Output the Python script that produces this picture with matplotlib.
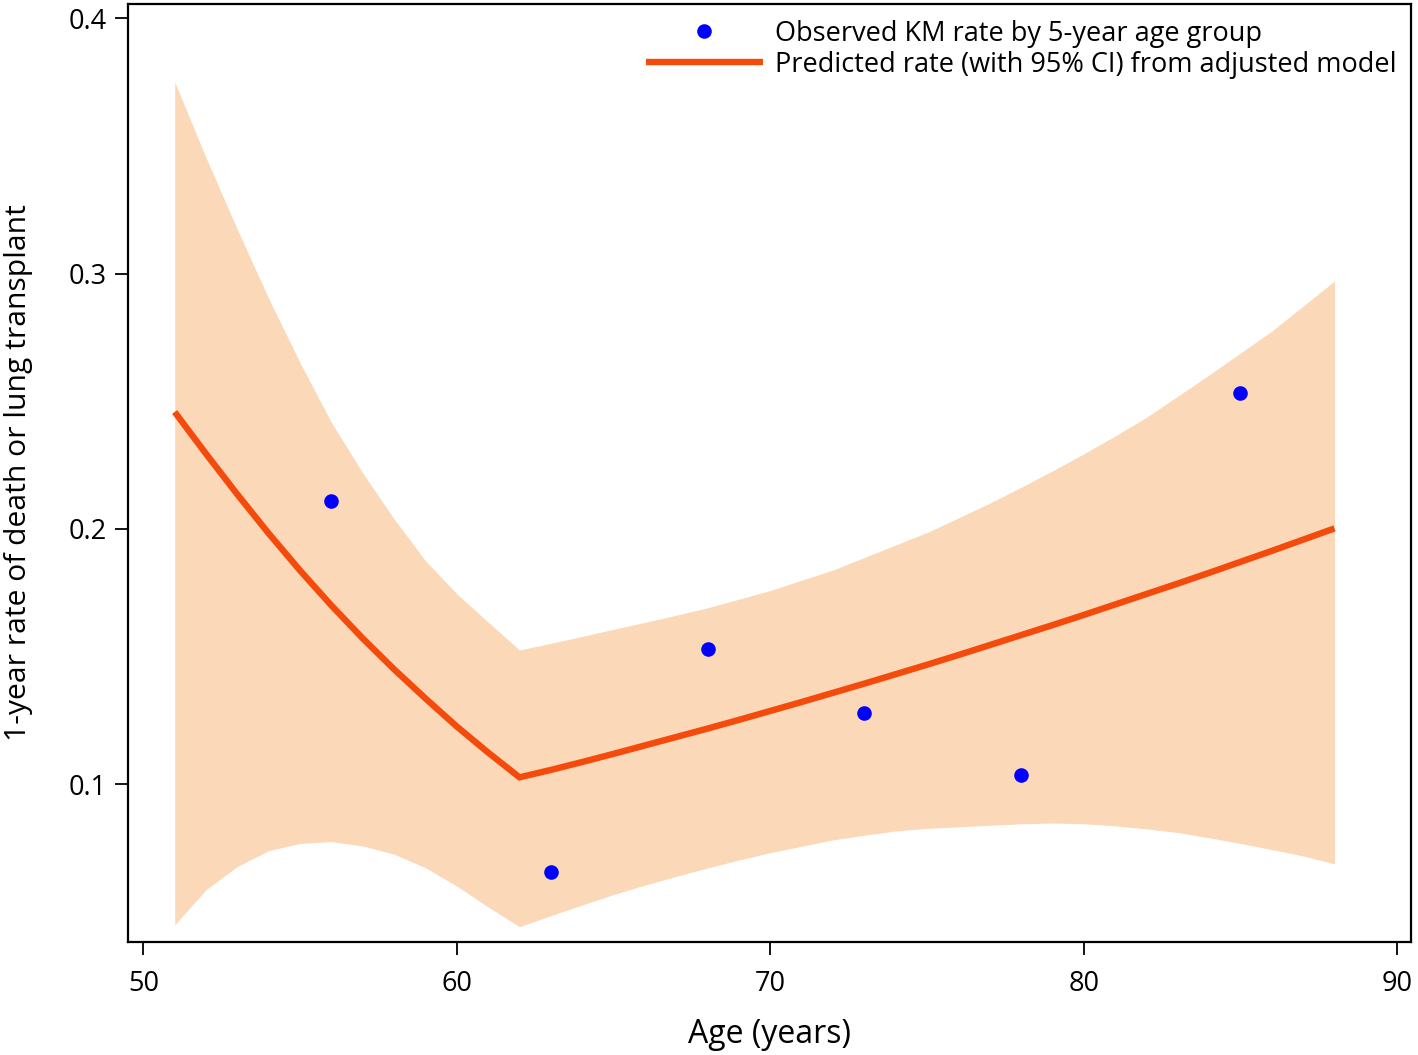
import matplotlib
matplotlib.use("Agg")
import matplotlib.pyplot as plt

# ---- data ----
obs_age = [56, 63, 68, 73, 78, 85]
obs_rate = [0.2111, 0.0655, 0.1530, 0.1278, 0.1036, 0.2534]

pred_age = [51, 52, 53, 54, 55, 56, 57, 58, 59, 60, 61, 62,
            63, 64, 65, 66, 67, 68, 69, 70, 71, 72, 73, 74, 75,
            76, 77, 78, 79, 80, 81, 82, 83, 84, 85, 86, 87, 88]
pred_rate = [0.2458, 0.2294, 0.2135, 0.1982, 0.1837, 0.1700, 0.1571, 0.1450,
             0.1336, 0.1226, 0.1124, 0.1027,
             0.1056, 0.1087, 0.1119, 0.1152, 0.1185, 0.1218, 0.1252, 0.1287,
             0.1322, 0.1358, 0.1394, 0.1431, 0.1468, 0.1506, 0.1545, 0.1584,
             0.1623, 0.1663, 0.1704, 0.1745, 0.1786, 0.1828, 0.1871, 0.1914,
             0.1958, 0.2002]
ci_upper = [0.3751, 0.3454, 0.3173, 0.2902, 0.2651, 0.2417, 0.2219, 0.2039,
            0.1875, 0.1746, 0.1635, 0.1526,
            0.1552, 0.1579, 0.1607, 0.1634, 0.1662, 0.1691, 0.1725, 0.1759,
            0.1799, 0.1839, 0.1888, 0.1937, 0.1986, 0.2043, 0.2101, 0.2163,
            0.2227, 0.2294, 0.2364, 0.2437, 0.2520, 0.2603, 0.2689, 0.2775,
            0.2873, 0.2971]
ci_lower = [0.0449, 0.0587, 0.0678, 0.0740, 0.0768, 0.0775, 0.0758, 0.0726,
            0.0673, 0.0601, 0.0519, 0.0442,
            0.0485, 0.0527, 0.0568, 0.0605, 0.0639, 0.0672, 0.0703, 0.0732,
            0.0757, 0.0782, 0.0800, 0.0817, 0.0827, 0.0833, 0.0839, 0.0845,
            0.0848, 0.0845, 0.0837, 0.0825, 0.0811, 0.0790, 0.0768, 0.0744,
            0.0719, 0.0688]

x_ticks = [50, 60, 70, 80, 90]
y_ticks = [0.1, 0.2, 0.3, 0.4]
y_tick_labels = ["0.1", "0.2", "0.3", "0.4"]

label_obs = "Observed KM rate by 5-year age group"
label_pred = "Predicted rate (with 95% CI) from adjusted model"
x_label = "Age (years)"
y_label = "1-year rate of death or lung transplant"

# ---- figure ----
plt.rcParams['font.family'] = ['Open Sans', 'DejaVu Sans']
W, H = 1418, 1055
fig = plt.figure(figsize=(W / 100, H / 100), dpi=100)
ax = fig.add_axes([128.3 / W, (H - 942) / H, (1411 - 128.3) / W, (942 - 4) / H])

band_color = '#FBD9B8'
line_color = '#F44A0C'
dot_color = '#0000FF'

ax.fill_between(pred_age, ci_lower, ci_upper, color=band_color, linewidth=0, zorder=1)
line, = ax.plot(pred_age, pred_rate, color=line_color, linewidth=4.6,
                solid_joinstyle='miter', solid_capstyle='butt', zorder=2, label=label_pred)
pts, = ax.plot(obs_age, obs_rate, linestyle='none', marker='o', markersize=10.5,
               color=dot_color, markeredgewidth=0, zorder=3, label=label_obs)

ax.set_xlim(49.52, 90.44)
ax.set_ylim(0.0382, 0.4056)
ax.set_xticks(x_ticks)
ax.set_yticks(y_ticks)
ax.set_yticklabels(y_tick_labels)

for s in ax.spines.values():
    s.set_linewidth(1.6)
    s.set_color('black')
ax.tick_params(axis='both', direction='out', length=9.5, width=1.3, labelsize=19.5,
               colors='black')
ax.tick_params(axis='x', pad=11)
ax.tick_params(axis='y', pad=6)

ax.set_xlabel(x_label, fontsize=23, labelpad=14)
ax.set_ylabel(y_label, fontsize=21.6)
ax.yaxis.set_label_coords(-0.0745, 0.5)

leg = ax.legend(handles=[pts, line], loc='upper right', frameon=False,
                fontsize=19.5, handlelength=4.3, handletextpad=0.45, labelspacing=0.12,
                borderaxespad=0.0, borderpad=0.35, bbox_to_anchor=(0.996, 0.9935))

fig.savefig('out.png', dpi=100)
